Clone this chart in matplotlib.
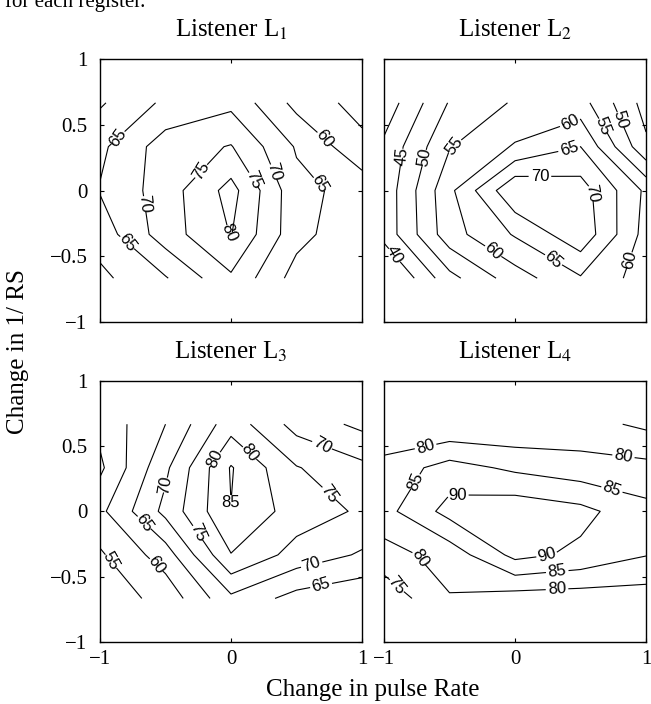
import matplotlib.pyplot as plt
import numpy as np

plt.rcParams['font.family'] = ['Liberation Serif', 'DejaVu Serif']
plt.rcParams['mathtext.fontset'] = 'stix'

# grid of the listening test
rate = [-1, -0.5, 0, 0.5, 1]
inv_rs = [-2/3, -1/3, 0, 1/3, 2/3]

# scores, one row per inv_rs value (bottom to top), one column per rate value
score_L1 = [[58.8, 64.6, 74.2, 62.9, 61.0],
            [62.2, 72.6, 80.2, 66.7, 61.0],
            [65.3, 72.5, 81.8, 66.5, 63.0],
            [63.9, 72.5, 75.3, 64.5, 56.5],
            [59.4, 66.0, 68.7, 58.5, 53.0]]
score_L2 = [[32.8, 48.4, 57.7, 64.5, 57.6],
            [41.8, 58.0, 65.5, 73.6, 58.1],
            [41.7, 58.8, 74.5, 72.4, 59.0],
            [41.0, 54.7, 60.5, 65.0, 46.0],
            [36.9, 50.4, 55.6, 57.0, 43.0]]
score_L3 = [[52.0, 56.7, 68.9, 63.1, 61.0],
            [54.3, 62.5, 79.8, 73.1, 69.4],
            [58.8, 71.4, 84.9, 77.6, 74.3],
            [54.0, 69.0, 85.4, 75.3, 71.3],
            [56.5, 65.0, 77.9, 68.1, 63.8]]
score_L4 = [[71.5, 79.7, 77.6, 77.3, 77.5],
            [78.0, 82.0, 91.5, 88.9, 85.2],
            [83.3, 91.8, 93.5, 91.5, 86.5],
            [81.9, 87.0, 84.0, 82.0, 81.5],
            [75.3, 75.4, 75.5, 76.8, 74.0]]
levels = [40, 45, 50, 55, 60, 65, 70, 75, 80, 85, 90]

# where the contour values get written
labels_L1 = [(-0.86, 0.40), (-0.66, -0.10), (-0.80, -0.40), (-0.21, 0.14),
             (0.16, 0.08), (-0.02, -0.32), (0.31, 0.14), (0.68, 0.38), (0.68, 0.05)]
labels_L2 = [(-0.865, 0.26), (-0.67, 0.25), (-0.43, 0.32), (0.43, 0.50),
             (0.66, 0.49), (0.80, 0.54), (0.41, 0.32), (0.19, 0.105),
             (0.585, -0.02), (-0.94, -0.50), (-0.15, -0.45), (0.29, -0.53), (0.90, -0.53)]
labels_L3 = [(-0.49, 0.20), (-0.135, 0.405), (0.13, 0.44), (0.0, 0.06),
             (0.69, 0.50), (0.756, 0.14), (-0.67, -0.09), (-0.275, -0.17),
             (-0.91, -0.38), (-0.59, -0.42), (0.60, -0.38), (0.68, -0.55)]
labels_L4 = [(-0.68, 0.49), (0.83, 0.43), (-0.76, 0.23), (-0.44, 0.125),
             (0.73, 0.15), (0.25, -0.35), (0.32, -0.45), (-0.73, -0.36),
             (0.32, -0.59), (-0.885, -0.56)]

panels = [('Listener L$_1$', score_L1, labels_L1),
          ('Listener L$_2$', score_L2, labels_L2),
          ('Listener L$_3$', score_L3, labels_L3),
          ('Listener L$_4$', score_L4, labels_L4)]

fig = plt.figure(figsize=(6.51, 7.04), dpi=100)
boxes = [[0.1536, 0.5426, 0.4025, 0.3736],
         [0.5899, 0.5426, 0.4025, 0.3736],
         [0.1536, 0.0881, 0.4025, 0.3712],
         [0.5899, 0.0881, 0.4025, 0.3712]]

X, Y = np.meshgrid(rate, inv_rs)
for i, (title, score, spots) in enumerate(panels):
    ax = fig.add_axes(boxes[i])
    cs = ax.contour(X, Y, np.array(score), levels=levels, colors='k', linewidths=0.8)
    lbl = ax.clabel(cs, manual=spots, fmt='%d', fontsize=12, inline=True, inline_spacing=3)
    for t in lbl:
        t.set_family('Liberation Sans')
    ax.set_xlim(-1, 1)
    ax.set_ylim(-1, 1)
    ax.set_xticks([-1, 0, 1])
    ax.set_yticks([-1, -0.5, 0, 0.5, 1])
    ax.set_yticklabels(['\u22121', '\u22120.5', '0', '0.5', '1'])
    ax.set_xticklabels(['\u22121', '0', '1'])
    ax.tick_params(direction='in', length=3, width=0.8, top=True, right=True,
                   labelsize=15)
    ax.tick_params(axis='y', pad=9)
    ax.tick_params(axis='x', pad=6)
    if i % 2 == 1:
        ax.tick_params(labelleft=False)
    if i < 2:
        ax.tick_params(labelbottom=False)
    for s in ax.spines.values():
        s.set_linewidth(1.0)
    ax.text(0.5, 1.085, title, transform=ax.transAxes, ha='center', va='baseline',
            fontsize=18)

fig.text(0.008, 1 - 7/704, 'for each register.', fontsize=15, va='baseline')
fig.text(0.028, 0.50, 'Change in 1/ RS', rotation=90, ha='center', va='center', fontsize=18)
fig.text(0.573, 0.02, 'Change in pulse Rate', ha='center', va='center', fontsize=18)

fig.savefig('out.png', dpi=100)
